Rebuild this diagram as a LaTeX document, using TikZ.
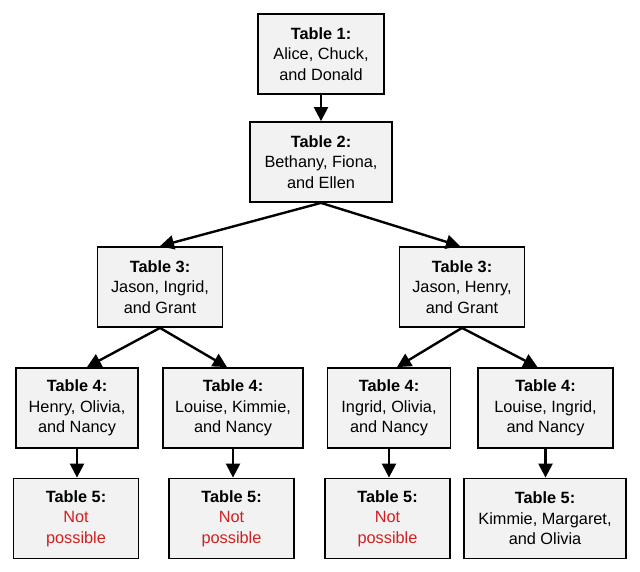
\documentclass[tikz,border=0pt]{standalone}
\usepackage{fontspec}
\setmainfont{Liberation Sans}
\usetikzlibrary{arrows.meta}
\definecolor{boxfill}{HTML}{F2F2F2}
\definecolor{nogo}{HTML}{D02020}
\begin{document}
\begin{tikzpicture}[x=1pt,y=-1pt,
  tbl/.style={draw=black, line width=1.8pt, fill=boxfill, minimum height=80pt,
    align=center, inner sep=2pt, font=\fontsize{16.3}{20.5}\selectfont},
  conn/.style={line width=2.4pt, -{Triangle[width=14pt,length=14pt]}}]
\useasboundingbox (0,0) rectangle (640,572);
\node[tbl, minimum width=126pt] (t1) at (321,54) {\textbf{Table 1:}\\Alice, Chuck,\\and Donald};
\node[tbl, minimum width=142pt] (t2) at (321,162) {\textbf{Table 2:}\\Bethany, Fiona,\\and Ellen};
\node[tbl, minimum width=125pt] (t3l) at (160,287) {\textbf{Table 3:}\\Jason, Ingrid,\\and Grant};
\node[tbl, minimum width=125pt] (t3r) at (462,287) {\textbf{Table 3:}\\Jason, Henry,\\and Grant};
\node[tbl, minimum width=122pt] (t4a) at (77,408) {\textbf{Table 4:}\\Henry, Olivia,\\and Nancy};
\node[tbl, minimum width=140pt] (t4b) at (233,408) {\textbf{Table 4:}\\Louise, Kimmie,\\and Nancy};
\node[tbl, minimum width=123pt] (t4c) at (389,408) {\textbf{Table 4:}\\Ingrid, Olivia,\\and Nancy};
\node[tbl, minimum width=135pt] (t4d) at (545.5,408) {\textbf{Table 4:}\\Louise, Ingrid,\\and Nancy};
\node[tbl, minimum width=125pt] (t5a) at (76,518.5) {\textbf{Table 5:}\\\textcolor{nogo}{Not}\\\textcolor{nogo}{possible}};
\node[tbl, minimum width=125pt] (t5b) at (231.5,518.5) {\textbf{Table 5:}\\\textcolor{nogo}{Not}\\\textcolor{nogo}{possible}};
\node[tbl, minimum width=125pt] (t5c) at (387.5,518.5) {\textbf{Table 5:}\\\textcolor{nogo}{Not}\\\textcolor{nogo}{possible}};
\node[tbl, minimum width=162pt] (t5d) at (545,518.5) {\textbf{Table 5:}\\Kimmie, Margaret,\\and Olivia};
\draw[conn] (t1.south) -- (t2.north);
\draw[conn] (t2.south) -- (t3l.north);
\draw[conn] (t2.south) -- ([xshift=-2pt]t3r.north);
\draw[conn] (t3l.south) -- ([xshift=10pt]t4a.north);
\draw[conn] (t3l.south) -- ([xshift=-6pt]t4b.north);
\draw[conn] (t3r.south) -- ([xshift=8pt]t4c.north);
\draw[conn] (t3r.south) -- ([xshift=-8pt]t4d.north);
\draw[conn] (t4a.south) -- (t4a.south |- t5a.north);
\draw[conn] (t4b.south) -- (t4b.south |- t5b.north);
\draw[conn] (t4c.south) -- (t4c.south |- t5c.north);
\draw[conn] (t4d.south) -- (t4d.south |- t5d.north);
\end{tikzpicture}
\end{document}
